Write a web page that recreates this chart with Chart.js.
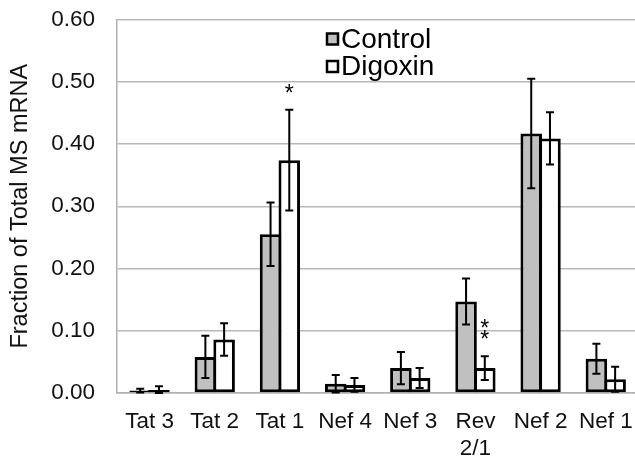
<!DOCTYPE html>
<html>
<head>
<meta charset="utf-8">
<script src="https://cdn.jsdelivr.net/npm/chart.js@4/dist/chart.umd.min.js"></script>
<style>
    html, body { margin: 0; padding: 0; background: #fff; overflow: hidden; }
    #wrap { width: 648px; height: 489px; margin-top: -16px; }
</style>
</head>
<body>
<div id="wrap"><canvas id="chart"></canvas></div>
<script>
// data
const categories = ['Tat 3', 'Tat 2', 'Tat 1', 'Nef 4', 'Nef 3', ['Rev', '2/1'], 'Nef 2', 'Nef 1'];
const controlValues = [0.004, 0.058, 0.255, 0.015, 0.040, 0.147, 0.417, 0.055];
const controlErrors = [0.003, 0.034, 0.051, 0.014, 0.026, 0.037, 0.088, 0.024];
const digoxinValues = [0.005, 0.086, 0.374, 0.013, 0.024, 0.040, 0.409, 0.022];
const digoxinErrors = [0.006, 0.026, 0.081, 0.011, 0.016, 0.019, 0.042, 0.020];
const digoxinMarks = ['', '', '*', '', '', '**', '', ''];
const yMin = 0;
const yMax = 0.6;
const yStep = 0.1;

const FONT = "'Liberation Sans', Arial, sans-serif";

// error bars + significance stars
const errorBars = {
    id: 'errorBars',
    afterDatasetsDraw(chart) {
        const ctx = chart.ctx;
        const y = chart.scales.y;
        ctx.save();
        ctx.strokeStyle = '#000';
        ctx.lineWidth = 2;
        chart.data.datasets.forEach((ds, di) => {
            const meta = chart.getDatasetMeta(di);
            meta.data.forEach((bar, i) => {
                const v = ds.data[i];
                const e = ds.errors[i];
                const top = y.getPixelForValue(v + e);
                const bot = y.getPixelForValue(Math.max(v - e, 0));
                ctx.beginPath();
                ctx.moveTo(bar.x, top);
                ctx.lineTo(bar.x, bot);
                ctx.moveTo(bar.x - 4, top);
                ctx.lineTo(bar.x + 4, top);
                ctx.moveTo(bar.x - 4, bot);
                ctx.lineTo(bar.x + 4, bot);
                ctx.stroke();

                const mark = ds.marks ? ds.marks[i] : '';
                if (mark) {
                    ctx.fillStyle = '#000';
                    ctx.font = '23px ' + FONT;
                    ctx.textAlign = 'center';
                    ctx.textBaseline = 'middle';
                    for (let k = 0; k < mark.length; k++) {
                        ctx.fillText('*', bar.x, top - 15.5 - k * 11.5);
                    }
                }
            });
        });
        ctx.restore();
    }
};

// legend inside the plot
const innerLegend = {
    id: 'innerLegend',
    afterDraw(chart) {
        const ctx = chart.ctx;
        ctx.save();
        ctx.font = '28px ' + FONT;
        ctx.textBaseline = 'middle';
        ctx.textAlign = 'left';
        chart.data.datasets.forEach((ds, i) => {
            const cy = 55 + i * 27.5;
            ctx.fillStyle = ds.backgroundColor;
            ctx.fillRect(327, cy - 5.5, 11, 11);
            ctx.strokeStyle = '#000';
            ctx.lineWidth = 2.5;
            ctx.strokeRect(327, cy - 5.5, 11, 11);
            ctx.fillStyle = '#000';
            ctx.fillText(ds.label, 341, cy + 1);
        });
        ctx.restore();
    }
};

new Chart(document.getElementById('chart'), {
    type: 'bar',
    data: {
        labels: categories,
        datasets: [
            {
                label: 'Control',
                data: controlValues,
                errors: controlErrors,
                backgroundColor: '#c0c0c0',
                borderColor: '#000',
                borderWidth: 3,
                borderSkipped: false
            },
            {
                label: 'Digoxin',
                data: digoxinValues,
                errors: digoxinErrors,
                marks: digoxinMarks,
                backgroundColor: '#ffffff',
                borderColor: '#000',
                borderWidth: 3,
                borderSkipped: false
            }
        ]
    },
    options: {
        responsive: true,
        maintainAspectRatio: false,
        animation: false,
        layout: {
            padding: { top: -7, right: 5.5, bottom: -4, left: 6 }
        },
        datasets: {
            bar: {
                categoryPercentage: 0.575,
                barPercentage: 1.15
            }
        },
        scales: {
            x: {
                grid: { display: false, drawTicks: false },
                border: { color: '#b0b0b0', width: 1.5 },
                ticks: {
                    color: '#111',
                    font: { family: FONT, size: 22.5, lineHeight: 1.2 },
                    padding: 15,
                    maxRotation: 0,
                    autoSkip: false
                }
            },
            y: {
                min: yMin,
                max: yMax,
                ticks: {
                    stepSize: yStep,
                    color: '#111',
                    font: { family: FONT, size: 22.5 },
                    padding: 22,
                    callback: (v) => v.toFixed(2)
                },
                grid: { color: '#b8b8b8', lineWidth: 1.5, drawTicks: false },
                border: { color: '#b0b0b0', width: 1.5 },
                title: {
                    display: true,
                    text: 'Fraction of Total MS mRNA',
                    color: '#111',
                    font: { family: FONT, size: 23.5 },
                    padding: { top: 0, bottom: -5 }
                }
            }
        },
        plugins: {
            legend: { display: false },
            tooltip: { enabled: false }
        }
    },
    plugins: [errorBars, innerLegend]
});
</script>
</body>
</html>
